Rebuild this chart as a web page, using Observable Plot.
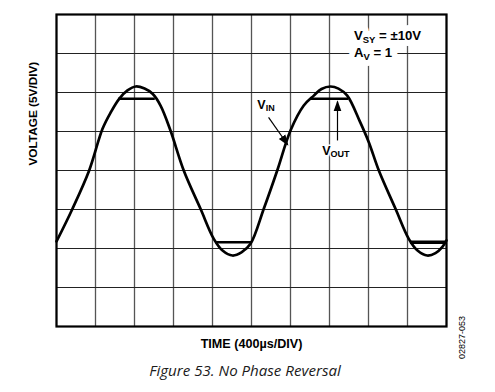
<!DOCTYPE html>
<html>
<head>
<meta charset="utf-8">
<script src="https://cdn.jsdelivr.net/npm/d3@7"></script>
<script src="https://cdn.jsdelivr.net/npm/@observablehq/plot@0.6"></script>
<style>
  html, body { margin: 0; padding: 0; background: #fff; }
  #wrap { position: relative; width: 495px; height: 392px; overflow: hidden; }
  #chart { position: absolute; left: 0; top: 0; }
  #caption { position: absolute; left: 0; width: 490px; top: 360px; text-align: center;
    font-family: "Open Sans", "Noto Sans", sans-serif; font-style: italic; font-size: 15.1px; color: #1a1a1a; }
</style>
</head>
<body>
<div id="wrap">
  <div id="chart"></div>
  <div id="caption">Figure 53. No Phase Reversal</div>
</div>
<script>
// ---- data (time in µs, voltage in V) ----
const xTicks = [0, 400, 800, 1200, 1600, 2000, 2400, 2800, 3200, 3600, 4000];
const yTicks = [-20, -15, -10, -5, 0, 5, 10, 15, 20];

const timeUs = [0, 164, 335, 472, 557, 643, 728, 813, 903, 985, 1067, 1169, 1305, 1477, 1613, 1703, 1805, 1897, 1990, 2126, 2264, 2400, 2536, 2639, 2718, 2810, 2892, 2982, 3111, 3203, 3306, 3477, 3613, 3703, 3802, 3887, 3956, 4000];
const vinV   = [-9.1, -4.9, 0, 5.35, 7.47, 9.19, 10.26, 10.77, 10.5, 9.83, 8.33, 5.13, 0, -4.91, -8.76, -10.26, -10.9, -10.5, -9.4, -4.91, 0, 5.13, 8.33, 9.6, 10.45, 10.77, 10.5, 9.6, 6.3, 3.63, 0, -4.91, -8.76, -10.26, -10.9, -10.6, -9.83, -8.97];

// VOUT clipped (flat) segments
const voutStart = [633, 1638, 2610, 3625];
const voutEnd   = [1008, 1997, 2990, 4000];
const voutLevel = [9.19, -9.19, 9.19, -9.19];
const voutWidth = [2.6, 2.6, 2.6, 3.6];

// annotations
const annText = ["V_{SY} = ±10V", "A_{V} = 1", "V_{IN}", "V_{OUT}"];
const annT    = [3050, 3050, 2060, 2725];
const annV    = [17.3, 15.1, 8.46, 2.56];

const arrowT1 = [2175, 2882];
const arrowV1 = [6.8, 3.85];
const arrowT2 = [2372, 2882];
const arrowV2 = [3.3, 8.85];

const xLabel = "TIME (400µs/DIV)";
const yLabel = "VOLTAGE (5V/DIV)";
const figId  = "02827-053";

// ---- build tables ----
const vin = timeUs.map((t, i) => ({t, v: vinV[i]}));
const vout = voutStart.map((t0, i) => ({t0, t1: voutEnd[i], v: voutLevel[i], w: voutWidth[i]}));
const ann = annText.map((s, i) => ({s, t: annT[i], v: annV[i]}));
const arrows = arrowT1.map((t1, i) => ({t1, v1: arrowV1[i], t2: arrowT2[i], v2: arrowV2[i]}));

const boldFont = "Liberation Sans, Arial, sans-serif";
const topAnn = ann.slice(0, 2);
const curveAnn = ann.slice(2);

const plot = Plot.plot({
  width: 495,
  height: 360,
  marginLeft: 56,
  marginRight: 49,
  marginTop: 14,
  marginBottom: 34,
  x: {domain: [0, 4000], axis: null},
  y: {domain: [-20, 20], axis: null},
  style: {background: "white", fontFamily: boldFont},
  marks: [
    Plot.ruleX(xTicks, {stroke: "#555", strokeWidth: 1.3}),
    Plot.ruleY(yTicks, {stroke: "#222", strokeWidth: 1.2}),
    // halo layer
    Plot.text(topAnn, {x: "t", y: "v", text: "s", textAnchor: "start", fontSize: 13.2, fontWeight: "bold",
      fill: "white", stroke: "white", strokeWidth: 12}),
    Plot.text(topAnn, {x: "t", y: "v", text: "s", textAnchor: "start", fontSize: 13.2, fontWeight: "bold", fill: "black"}),
    Plot.frame({stroke: "black", strokeWidth: 2.2}),
    Plot.line(vin, {x: "t", y: "v", curve: "catmull-rom", stroke: "black", strokeWidth: 2.7}),
    Plot.link(vout, {x1: "t0", x2: "t1", y1: "v", y2: "v", stroke: "black", strokeWidth: d => d.w}),
    Plot.text(curveAnn, {x: "t", y: "v", text: "s", textAnchor: "start", fontSize: 12.5, fontWeight: "bold",
      fill: "white", stroke: "white", strokeWidth: 3}),
    Plot.text(curveAnn, {x: "t", y: "v", text: "s", textAnchor: "start", fontSize: 12.5, fontWeight: "bold", fill: "black"}),
    Plot.link(arrows, {x1: "t1", y1: "v1", x2: "t2", y2: "v2", stroke: "black", strokeWidth: 1.2, ariaDescription: "annarrow"}),
    Plot.text([xLabel], {frameAnchor: "bottom", dy: 21, fontSize: 12.6, fontWeight: "bold", fill: "black"}),
    Plot.text([yLabel], {frameAnchor: "left", dx: -23, dy: -5, rotate: -90, fontSize: 11.8, fontWeight: "bold", fill: "black"}),
    Plot.text([figId], {frameAnchor: "bottom-right", dx: 16, dy: 11, rotate: -90, textAnchor: "middle", lineAnchor: "middle",
      fontSize: 9, fill: "black"})
  ]
});

document.getElementById("chart").appendChild(plot);

// subscripts: "X_{sub}" -> tspans
plot.querySelectorAll("text").forEach(el => {
  const s = el.textContent;
  if (!s.includes("_{")) return;
  const parts = s.split(/_\{([^}]*)\}/);
  while (el.firstChild) el.removeChild(el.firstChild);
  parts.forEach((p, i) => {
    const ts = document.createElementNS("http://www.w3.org/2000/svg", "tspan");
    ts.textContent = p;
    if (i % 2 === 1) {
      ts.setAttribute("font-size", "0.72em");
      ts.setAttribute("dy", "0.32em");
    } else if (i > 0) {
      ts.setAttribute("dy", "-0.23em");
    }
    el.appendChild(ts);
  });
});

// filled arrowheads
const ns = "http://www.w3.org/2000/svg";
const defs = document.createElementNS(ns, "defs");
const marker = document.createElementNS(ns, "marker");
marker.setAttribute("id", "fillarrow");
marker.setAttribute("viewBox", "0 -5 10 10");
marker.setAttribute("refX", "9");
marker.setAttribute("refY", "0");
marker.setAttribute("markerUnits", "userSpaceOnUse");
marker.setAttribute("markerWidth", "11");
marker.setAttribute("markerHeight", "11");
marker.setAttribute("orient", "auto");
const mp = document.createElementNS(ns, "path");
mp.setAttribute("d", "M0,-3.6L10,0L0,3.6Z");
mp.setAttribute("fill", "black");
marker.appendChild(mp);
defs.appendChild(marker);
plot.insertBefore(defs, plot.firstChild);
let ag = plot.querySelector('g[aria-description="annarrow"]');
if (!ag) { const links = plot.querySelectorAll('g[aria-label="link"]'); ag = links[links.length - 1]; }
if (ag) ag.querySelectorAll("path, line").forEach(p => p.setAttribute("marker-end", "url(#fillarrow)"));
</script>
</body>
</html>
